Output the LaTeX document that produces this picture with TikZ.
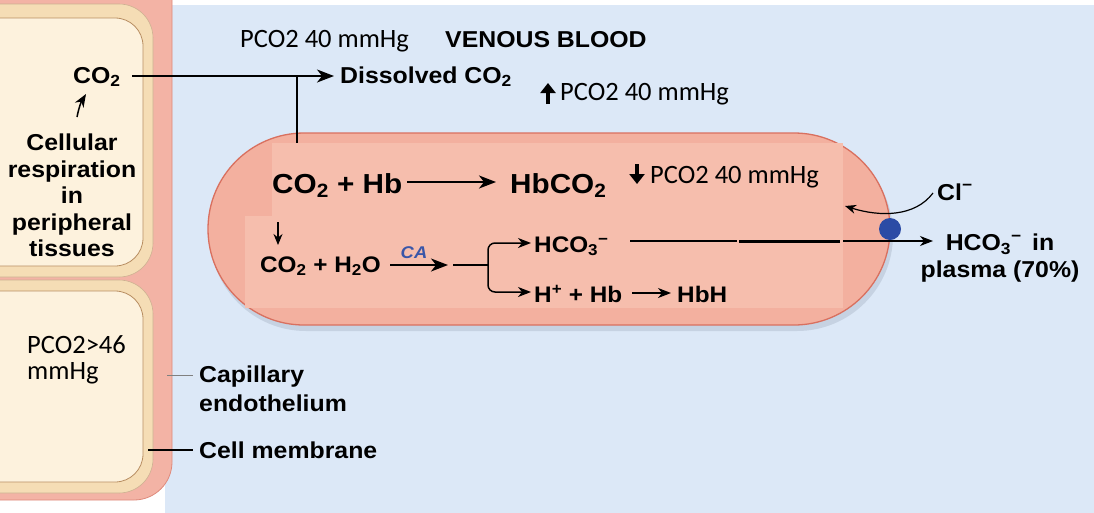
\documentclass[tikz,border=0pt]{standalone}
\usepackage{fontspec}
\setmainfont{Liberation Sans}
\newfontfamily\bsf{Liberation Sans}[FakeStretch=1.08]
\newfontfamily\calfont{Carlito}
\usetikzlibrary{arrows.meta}
\definecolor{bgblue}{HTML}{DCE8F7}
\definecolor{capred}{HTML}{F3B3A5}
\definecolor{capedge}{HTML}{DF8A7C}
\definecolor{cellout}{HTML}{F5DDB5}
\definecolor{cellin}{HTML}{FDF2DD}
\definecolor{celledge}{HTML}{B88E62}
\definecolor{rbc}{HTML}{F3B09F}
\definecolor{rbcedge}{HTML}{D9705F}
\definecolor{rbclight}{HTML}{F6BEAD}
\definecolor{blueCA}{HTML}{3A56A8}
\definecolor{dotblue}{HTML}{2B4BA5}
\definecolor{shadowc}{HTML}{B8C4D4}
\tikzset{
  bt/.style={font=\bsf\bfseries\fontsize{23}{26.5}\selectfont, inner sep=0pt, anchor=base west},
  btbig/.style={bt, font=\bsf\bfseries\fontsize{27.5}{30}\selectfont},
  btmid/.style={bt, font=\bsf\bfseries\fontsize{22.5}{26}\selectfont},
  ct/.style={font=\calfont\fontsize{26.5}{26.5}\selectfont, inner sep=0pt, anchor=base west},
  arr/.style={-{Stealth[length=17pt,width=13pt,inset=5pt]}, line width=1.7pt},
  marr/.style={-{Stealth[length=13pt,width=10pt,inset=4pt]}, line width=1.5pt},
  sarr/.style={-{Stealth[length=11pt,width=9pt,inset=3.5pt]}, line width=1.2pt},
  bigarr/.style={line width=3.6pt, -{Triangle[length=10pt,width=15pt]}},
}
\begin{document}
\begin{tikzpicture}[x=1pt,y=-1pt]
\useasboundingbox (0,0) rectangle (1094,512);
\clip (0,0) rectangle (1094,512);
\fill[white] (0,0) rectangle (1094,512);
\fill[bgblue] (165,5) rectangle (1100,520);
% capillary endothelium band
\filldraw[fill=capred, draw=capedge, line width=0.8pt, rounded corners=38pt] (-60,-40) rectangle (172,500);
% tissue cells
\filldraw[fill=cellout, draw=celledge!70, line width=0.6pt, rounded corners=34pt] (-60,4) rectangle (153,277);
\filldraw[fill=cellin, draw=celledge, line width=0.8pt, rounded corners=28pt] (-60,18) rectangle (143,266);
\filldraw[fill=cellout, draw=celledge!70, line width=0.6pt, rounded corners=34pt] (-60,280) rectangle (153,493);
\filldraw[fill=cellin, draw=celledge, line width=0.8pt, rounded corners=28pt] (-60,291) rectangle (143,482);
% red blood cell
\fill[shadowc, opacity=0.6, rounded corners=96pt] (210,138) rectangle (893,331);
\filldraw[fill=rbc, draw=rbcedge, line width=1.3pt, rounded corners=96pt] (208,133) rectangle (890,325);
\fill[rbclight] (272,143) rectangle (843,216);
\fill[rbclight] (245,216) rectangle (843,308);

% left cell texts
\node[bt] (co2) at (73,83) {CO\textsubscript{2}};
\node[bt, align=center, anchor=north] (resp) at (72,134) {Cellular\\respiration\\in\\peripheral\\tissues};
\coordinate (rt) at (77,117);
\coordinate (rh) at (86,94);
\draw[marr] (rt) to[bend left=10] (rh);
\node[ct, align=left, anchor=north west] (p4) at (27,335) {PCO2>46\\mmHg};

% top texts
\node[ct] (p1) at (240,47) {PCO2 40 mmHg};
\node[bt] (vb) at (445,47) {VENOUS BLOOD};
\node[bt] (dis) at (340,83) {Dissolved CO\textsubscript{2}};
\coordinate (c1) at (132,76);
\coordinate (c2) at (334,76);
\draw[arr, line width=1.4pt] (c1) -- (c2);
\coordinate (v1) at (297,76);
\coordinate (v2) at (297,143);
\draw[line width=1.4pt] (v1) -- (v2);
\coordinate (ua1) at (548,104);
\coordinate (ua2) at (548,83);
\draw[bigarr] (ua1) -- (ua2);
\node[ct] (p2) at (560,100) {PCO2 40 mmHg};

% RBC reactions
\node[btbig] (hb) at (272,193) {CO\textsubscript{2} + Hb};
\node[btbig] (hbco) at (510,193) {HbCO\textsubscript{2}};
\coordinate (h1) at (407,182);
\coordinate (h2) at (496,182);
\draw[arr] (h1) -- (h2);
\coordinate (da1) at (637,164);
\coordinate (da2) at (637,184);
\draw[bigarr] (da1) -- (da2);
\node[ct] (p3) at (650,183) {PCO2 40 mmHg};

\coordinate (d1) at (278,222);
\coordinate (d2) at (278,245);
\draw[sarr] (d1) -- (d2);
\node[btmid] (eq2) at (260,272) {CO\textsubscript{2} + H\textsubscript{2}O};
\node[font=\bsf\bfseries\itshape\fontsize{17}{17}\selectfont, text=blueCA, inner sep=0pt, anchor=base] (ca) at (414,258) {CA};
\coordinate (e1) at (390,265);
\coordinate (e2) at (448,265);
\draw[arr] (e1) -- (e2);
\coordinate (b0) at (453,265);
\coordinate (b1) at (488,265);
\coordinate (bt1) at (531,243);
\coordinate (bb1) at (531,292);
\draw[line width=1.5pt] (b0) -- (b1);
\draw[marr, rounded corners=7pt] (b1) |- (bt1);
\draw[marr, rounded corners=7pt] (b1) |- (bb1);
\node[btmid] (hco) at (534,252) {HCO\textsubscript{3}\textsuperscript{−}};
\node[btmid] (hp) at (534,302) {H\textsuperscript{+} + Hb};
\coordinate (f1) at (632,293);
\coordinate (f2) at (671,293);
\draw[marr] (f1) -- (f2);
\node[btmid] (hbh) at (677,302) {HbH};

% bicarbonate exit and chloride shift
\coordinate (g1) at (630,241);
\coordinate (g2) at (737,241);
\coordinate (g3) at (739,241);
\coordinate (g4) at (840,241);
\coordinate (g5) at (843,241);
\coordinate (g6) at (933,241);
\draw[line width=1.1pt] (g1) -- (g2);
\draw[line width=3pt] (g3) -- (g4);
\draw[marr, line width=1.2pt] (g5) -- (g6);
\node[circle, fill=dotblue, inner sep=0pt, minimum size=22pt] (dot) at (890,229) {};
\node[bt] (cl) at (937,200) {Cl\textsuperscript{−}};
\coordinate (k1) at (933,193);
\coordinate (k2) at (845,206);
\draw[sarr] (k1) .. controls (915,217) and (880,217) .. (k2);
\node[bt, align=center, anchor=north] (pl) at (1000,234) {HCO\textsubscript{3}\textsuperscript{−}\hspace{0.45em}in\\plasma (70\%)};

% membrane labels
\node[bt, align=left, anchor=north west, font=\bsf\bfseries\fontsize{23}{29}\selectfont] (cap) at (199,366) {Capillary\\endothelium};
\coordinate (l1) at (167,375);
\coordinate (l2) at (193,375);
\draw[gray, line width=1pt] (l1) -- (l2);
\node[bt] (cm) at (199,458) {Cell membrane};
\coordinate (m1) at (148,450);
\coordinate (m2) at (193,450);
\draw[line width=1.2pt] (m1) -- (m2);
\end{tikzpicture}
\end{document}
